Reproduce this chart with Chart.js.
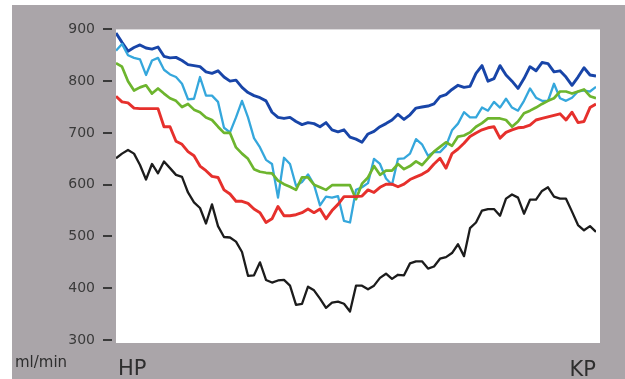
<!DOCTYPE html>
<html>
<head>
<meta charset="utf-8">
<script src="https://cdn.jsdelivr.net/npm/chart.js@4"></script>
<style>
  html, body { margin: 0; padding: 0; background: #fff; }
  canvas { display: block; }
</style>
</head>
<body>
<canvas id="flow-chart" width="625" height="379"></canvas>
<script>
// flow in ml/min, sampled evenly from HP (left) to KP (right)
const darkBlue = [893,875,858,865,870,864,862,866,848,845,846,840,832,830,828,818,815,820,808,800,802,788,778,772,768,762,740,730,728,730,722,716,720,718,712,720,706,702,706,692,688,682,698,703,712,718,725,736,726,735,748,750,752,756,770,774,784,792,788,790,815,830,800,805,830,812,800,786,805,828,820,836,834,818,820,808,792,808,826,812,810];
const lightBlue = [859,872,850,845,842,812,840,845,822,813,808,795,765,766,808,772,772,760,710,701,730,762,730,690,672,648,640,575,652,640,598,605,620,600,560,577,575,578,530,527,590,595,603,650,640,612,600,650,651,660,688,678,656,663,663,675,705,718,740,730,730,749,743,760,749,766,749,743,762,786,768,762,762,795,767,762,768,780,782,780,789];
const green = [835,828,800,782,788,792,776,786,776,767,762,750,756,745,740,730,725,712,700,700,672,660,650,630,625,623,622,608,601,596,590,614,614,600,595,590,599,599,599,599,572,602,614,636,619,627,627,640,630,636,645,638,651,664,673,682,675,693,695,701,712,719,728,728,728,725,712,722,738,743,749,756,762,767,780,780,776,780,784,771,767];
const red = [771,760,758,748,747,747,747,747,712,712,684,678,664,656,636,627,616,614,590,582,568,568,564,553,546,527,534,558,540,540,542,546,553,546,553,534,550,562,577,577,577,578,590,585,595,601,601,596,601,610,615,620,627,640,651,632,660,669,680,693,700,706,710,712,690,701,706,710,711,715,725,728,731,734,737,725,740,720,722,749,756];
const black = [651,660,667,660,638,610,640,622,645,632,619,615,585,566,555,525,562,520,499,498,490,470,424,425,450,416,411,415,416,405,368,370,403,396,380,362,372,374,370,355,405,405,398,405,420,428,418,426,425,448,452,452,438,442,457,460,468,485,462,516,527,550,553,553,540,573,581,575,544,571,571,588,595,577,573,573,548,522,512,520,509];

const steps = darkBlue.map((_, i) => i);
const unitLabel = 'ml/min';
const startLabel = 'HP';
const endLabel = 'KP';

function series(values, color, width) {
    return {
        data: values.map((v, i) => ({ x: steps[i], y: v })),
        borderColor: color,
        borderWidth: width,
        pointRadius: 0,
        tension: 0,
        borderJoinStyle: 'round',
        fill: false
    };
}

const framePlugin = {
    id: 'frame',
    beforeDraw(chart) {
        const { ctx, chartArea: a } = chart;
        ctx.save();
        ctx.fillStyle = '#ffffff';
        ctx.fillRect(0, 0, chart.width, chart.height);
        ctx.fillStyle = '#aaa5a9';
        ctx.fillRect(12, 5, chart.width - 12, chart.height - 5);
        ctx.fillStyle = '#ffffff';
        ctx.fillRect(a.left, a.top, a.right - a.left + 4, a.bottom - a.top + 3);
        ctx.restore();
    },
    afterDraw(chart) {
        const { ctx, chartArea: a } = chart;
        const y = chart.scales.y;
        ctx.save();
        // short tick dashes between the labels and the plot
        ctx.fillStyle = '#3a3a3a';
        y.ticks.forEach(t => {
            const py = Math.round(y.getPixelForValue(t.value));
            ctx.fillRect(a.left - 13, py - 1, 9, 2);
        });
        ctx.fillStyle = '#2e2e2e';
        ctx.textBaseline = 'alphabetic';
        ctx.font = '15px "DejaVu Sans"';
        ctx.textAlign = 'left';
        ctx.fillText(unitLabel, 15, 367);
        ctx.font = '21px "DejaVu Sans"';
        ctx.fillText(startLabel, a.left + 2, 375);
        ctx.textAlign = 'right';
        ctx.fillText(endLabel, a.right, 376);
        ctx.restore();
    }
};

new Chart(document.getElementById('flow-chart'), {
    type: 'line',
    data: {
        datasets: [
            series(black, '#1c1c1c', 2.3),
            series(red, '#e6302c', 2.9),
            series(green, '#6db52e', 2.7),
            series(lightBlue, '#35a7dc', 2.3),
            series(darkBlue, '#1845a8', 2.9)
        ]
    },
    options: {
        responsive: false,
        animation: false,
        devicePixelRatio: 1,
        layout: { padding: { top: 15, right: 29, bottom: 39, left: 0 } },
        plugins: { legend: { display: false }, tooltip: { enabled: false } },
        scales: {
            x: { type: 'linear', min: 0, max: 80, display: false },
            y: {
                min: 300,
                max: 900,
                afterFit: s => { s.width = 116; },
                grid: { display: false, drawTicks: false },
                border: { display: false },
                ticks: {
                    stepSize: 100,
                    padding: 21,
                    color: '#3a3a3a',
                    font: { family: 'DejaVu Sans', size: 14 }
                }
            }
        }
    },
    plugins: [framePlugin]
});
</script>
</body>
</html>
